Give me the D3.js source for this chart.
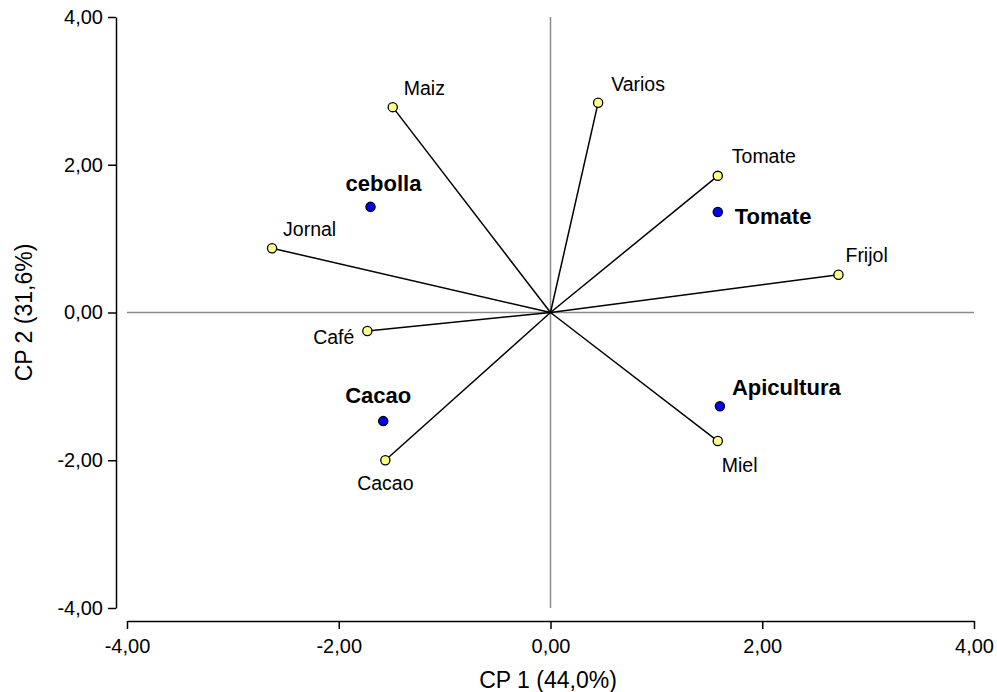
<!DOCTYPE html>
<html lang="es">
<head>
<meta charset="UTF-8">
<title>Biplot CP1 vs CP2</title>
<script src="https://d3js.org/d3.v7.min.js"></script>
<style>
  body { margin: 0; background: #fff; }
  svg text { font-family: "Liberation Sans", Arial, sans-serif; fill: #000; }
  .tick text { font-size: 20px; }
</style>
</head>
<body>
<svg width="997" height="692"></svg>
<script>
// variables (vectores)
const varNames = ["Maiz", "Varios", "Tomate", "Frijol", "Jornal", "Café", "Cacao", "Miel"];
const varX = [-1.49, 0.45, 1.58, 2.72, -2.63, -1.73, -1.56, 1.58];
const varY = [2.78, 2.84, 1.85, 0.51, 0.87, -0.25, -2.00, -1.74];

// grupos (puntos azules)
const grpNames = ["cebolla", "Tomate", "Cacao", "Apicultura"];
const grpX = [-1.70, 1.58, -1.58, 1.60];
const grpY = [1.43, 1.36, -1.47, -1.27];

const ticks = [-4, -2, 0, 2, 4];

// colocación de etiquetas [dx, dy, anchor]
const varLabelPos = [[11, -12, "start"], [13, -12, "start"], [14, -13, "start"], [7, -13, "start"],
                     [11, -12, "start"], [-13, 13, "end"], [0, 30, "middle"], [4, 31, "start"]];
const grpLabelPos = [[13, -16, "middle"], [17, 12, "start"], [-5, -18, "middle"], [12, -11, "start"]];

const svg = d3.select("svg");
const fmt = v => v.toFixed(2).replace(".", ",");

const x = d3.scaleLinear().domain([-4, 4]).range([127, 974]);
const y = d3.scaleLinear().domain([-4, 4]).range([608, 17]);

// ejes
svg.append("g").attr("transform", "translate(0,621)")
  .call(d3.axisBottom(x).tickValues(ticks).tickFormat(fmt).tickSizeInner(8).tickSizeOuter(0).tickPadding(10));
svg.append("g").attr("transform", "translate(116,0)")
  .call(d3.axisLeft(y).tickValues(ticks).tickFormat(fmt).tickSizeInner(8).tickSizeOuter(0).tickPadding(5));
svg.selectAll(".domain, .tick line").attr("stroke", "#000").attr("stroke-width", 1.5);

svg.append("text").attr("x", 548).attr("y", 688).attr("text-anchor", "middle")
  .style("font-size", "23px").text("CP 1 (44,0%)");
svg.append("text").attr("transform", `translate(32,${y(0)}) rotate(-90)`).attr("text-anchor", "middle")
  .style("font-size", "23px").text("CP 2 (31,6%)");

// líneas de referencia
svg.append("line").attr("x1", x(-4)).attr("x2", x(4)).attr("y1", y(0)).attr("y2", y(0))
  .attr("stroke", "#8c8c8c").attr("stroke-width", 1.5);
svg.append("line").attr("x1", x(0)).attr("x2", x(0)).attr("y1", y(4)).attr("y2", y(-4))
  .attr("stroke", "#8c8c8c").attr("stroke-width", 1.5);

const vars = varNames.map((n, i) => ({ name: n, x: varX[i], y: varY[i], pos: varLabelPos[i] }));
const grps = grpNames.map((n, i) => ({ name: n, x: grpX[i], y: grpY[i], pos: grpLabelPos[i] }));

// vectores
svg.append("g").selectAll("line").data(vars).join("line")
  .attr("x1", x(0)).attr("y1", y(0))
  .attr("x2", d => x(d.x)).attr("y2", d => y(d.y))
  .attr("stroke", "#000").attr("stroke-width", 1.5);

svg.append("g").selectAll("circle").data(vars).join("circle")
  .attr("cx", d => x(d.x)).attr("cy", d => y(d.y)).attr("r", 4.6)
  .attr("fill", "#ffff8c").attr("stroke", "#000").attr("stroke-width", 1.3);

svg.append("g").selectAll("text").data(vars).join("text")
  .attr("x", d => x(d.x) + d.pos[0]).attr("y", d => y(d.y) + d.pos[1])
  .attr("text-anchor", d => d.pos[2])
  .style("font-size", "19.5px").text(d => d.name);

// grupos
svg.append("g").selectAll("circle").data(grps).join("circle")
  .attr("cx", d => x(d.x)).attr("cy", d => y(d.y)).attr("r", 4.6)
  .attr("fill", "#0000ff").attr("stroke", "#000").attr("stroke-width", 1.3);

svg.append("g").selectAll("text").data(grps).join("text")
  .attr("x", d => x(d.x) + d.pos[0]).attr("y", d => y(d.y) + d.pos[1])
  .attr("text-anchor", d => d.pos[2])
  .style("font-size", "22px").style("font-weight", "bold").text(d => d.name);
</script>
</body>
</html>
